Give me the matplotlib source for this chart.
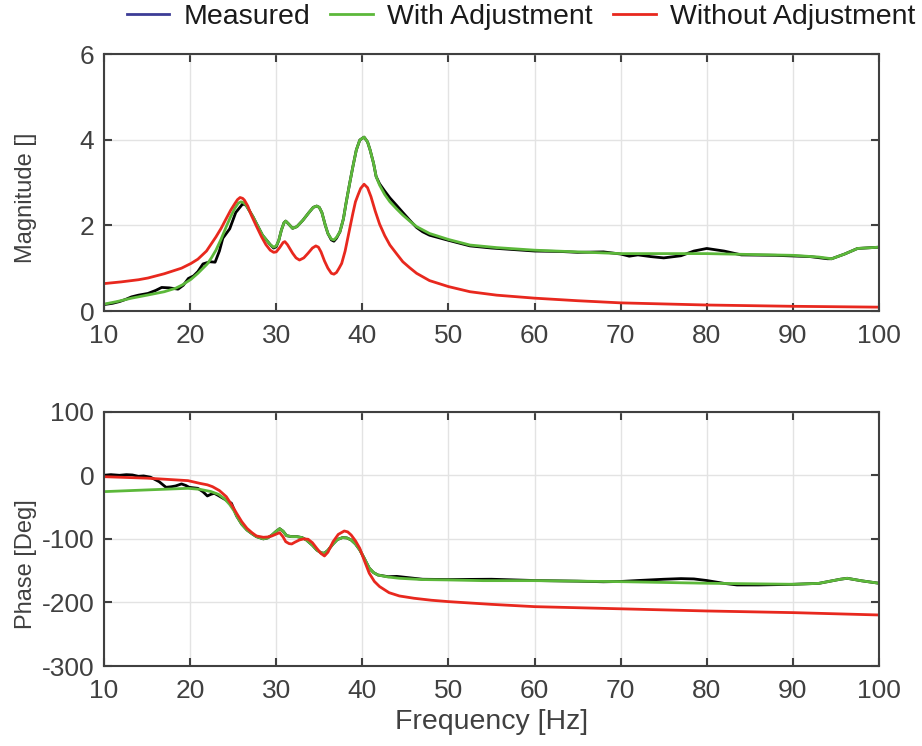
import numpy as np
import matplotlib
matplotlib.use("Agg")
import matplotlib.pyplot as plt
from matplotlib.lines import Line2D

plt.rcParams['font.family'] = ['Liberation Sans', 'DejaVu Sans']
plt.rcParams['axes.unicode_minus'] = False

# ---- Magnitud ----
f_mag_med = [10, 11, 11.8, 12.5, 13.2, 14.0, 15.1, 16.0, 16.7, 17.6, 18.6, 19.2, 19.8, 20.4,
             20.9, 21.5, 22.3, 22.9, 23.4, 23.8, 24.6, 25.3, 26.1, 26.5, 27.3, 28.4, 29.3,
             29.7, 30.0, 30.3, 30.6, 30.9, 31.1, 31.4, 31.9, 32.4, 33.1, 33.8, 34.3, 34.7,
             35.0, 35.3, 35.7, 36.0, 36.4, 36.7, 37.0, 37.4, 37.8, 38.1, 38.5, 38.9, 39.3,
             39.7, 40.2, 40.6, 40.9, 41.3, 41.6, 42.0, 42.6, 43.2, 44.0, 44.7, 45.5, 46.3,
             47.0, 47.8, 50, 52.5, 55, 60, 63, 65, 68, 70, 71, 72, 73.5, 75, 77, 78.5, 80,
             82, 84, 88, 92, 94, 94.5, 96, 97.5, 100]
mag_med = [0.15, 0.18, 0.22, 0.27, 0.33, 0.37, 0.41, 0.48, 0.55, 0.54, 0.51, 0.60, 0.76, 0.82,
           0.92, 1.10, 1.15, 1.14, 1.40, 1.70, 1.92, 2.30, 2.50, 2.47, 2.20, 1.77, 1.55,
           1.47, 1.50, 1.65, 1.89, 2.06, 2.10, 2.04, 1.93, 1.97, 2.12, 2.30, 2.42, 2.45,
           2.42, 2.30, 2.00, 1.81, 1.66, 1.63, 1.70, 1.85, 2.15, 2.51, 2.95, 3.37, 3.76,
           3.99, 4.06, 3.95, 3.76, 3.45, 3.14, 2.97, 2.80, 2.64, 2.46, 2.30, 2.12, 1.95,
           1.85, 1.77, 1.65, 1.52, 1.47, 1.40, 1.39, 1.37, 1.38, 1.33, 1.28, 1.31, 1.27,
           1.24, 1.29, 1.40, 1.46, 1.40, 1.31, 1.30, 1.27, 1.22, 1.22, 1.33, 1.46, 1.49]

f_mag_con = [10, 11.5, 13.2, 15, 17, 18.3, 19.1, 20.1, 20.9, 21.5, 22.0, 22.5, 23.0, 23.6,
             24.2, 24.7, 25.2, 25.6, 25.9, 26.2, 26.5, 27.3, 28.4, 29.3, 29.7, 30.0, 30.3,
             30.6, 30.9, 31.1, 31.4, 31.9, 32.4, 33.1, 33.8, 34.3, 34.7, 35.0, 35.3, 35.7,
             36.0, 36.4, 36.7, 37.0, 37.4, 37.8, 38.1, 38.5, 38.9, 39.3, 39.7, 40.2, 40.6,
             40.9, 41.3, 41.6, 42.0, 42.6, 43.2, 44.0, 44.7, 45.5, 46.3, 47.8, 50, 52.5,
             55.6, 60, 70, 80, 90, 93, 94.5, 96, 97.5, 100]
mag_con = [0.16, 0.22, 0.30, 0.37, 0.45, 0.53, 0.61, 0.74, 0.88, 1.00, 1.10, 1.25, 1.42, 1.68,
           1.97, 2.20, 2.40, 2.52, 2.55, 2.53, 2.47, 2.20, 1.77, 1.55, 1.49, 1.52, 1.65,
           1.89, 2.06, 2.10, 2.04, 1.93, 1.97, 2.12, 2.30, 2.42, 2.45, 2.42, 2.30, 2.00,
           1.81, 1.68, 1.66, 1.72, 1.85, 2.15, 2.51, 2.95, 3.37, 3.76, 3.99, 4.06, 3.95,
           3.76, 3.45, 3.14, 2.94, 2.72, 2.55, 2.38, 2.24, 2.10, 1.97, 1.81, 1.67, 1.54,
           1.48, 1.42, 1.34, 1.34, 1.30, 1.26, 1.22, 1.33, 1.46, 1.49]

f_mag_sin = [10, 12, 14, 15.1, 17, 19.0, 20.1, 20.9, 21.9, 23.0, 23.6, 24.2, 24.7, 25.2, 25.5,
             25.8, 26.1, 26.3, 26.7, 27.1, 27.7, 28.3, 28.8, 29.3, 29.7, 30.0, 30.4, 30.8,
             31.0, 31.3, 31.9, 32.3, 32.7, 33.2, 33.7, 34.2, 34.6, 34.9, 35.2, 35.6, 36.0,
             36.4, 36.7, 37.0, 37.3, 37.6, 38.0, 38.5, 38.9, 39.2, 39.5, 39.8, 40.2, 40.6,
             41.0, 41.5, 42.0, 42.6, 43.2, 44.0, 44.7, 45.5, 46.3, 47.8, 50, 52.5, 55.6, 60,
             65, 70, 80, 90, 100]
mag_sin = [0.64, 0.68, 0.73, 0.77, 0.87, 1.00, 1.11, 1.21, 1.40, 1.73, 1.93, 2.16, 2.35, 2.51,
           2.60, 2.65, 2.63, 2.59, 2.45, 2.24, 1.98, 1.73, 1.55, 1.42, 1.37, 1.38, 1.48,
           1.60, 1.62, 1.55, 1.35, 1.24, 1.19, 1.24, 1.35, 1.47, 1.52, 1.49, 1.38, 1.17,
           1.00, 0.88, 0.86, 0.90, 1.00, 1.11, 1.40, 1.89, 2.28, 2.55, 2.71, 2.86, 2.96,
           2.88, 2.67, 2.33, 2.03, 1.76, 1.54, 1.33, 1.15, 1.01, 0.88, 0.71, 0.57, 0.45,
           0.37, 0.30, 0.24, 0.19, 0.14, 0.11, 0.09]

# ---- Fase ----
f_fase_med = [10, 10.8, 11.8, 12.6, 13.3, 14.0, 14.6, 15.4, 16.4, 17.2, 17.8, 18.3, 19.0, 19.5,
              19.9, 20.9, 21.5, 22.0, 22.4, 22.8, 23.3, 23.8, 24.3, 24.8, 25.4, 26.0, 26.6,
              27.2, 27.7, 28.5, 29.0, 29.5, 30.0, 30.4, 30.8, 31.2, 31.8, 32.4, 33.0, 33.5,
              34.2, 34.7, 35.2, 35.6, 36.0, 36.6, 37.1, 37.7, 38.2, 38.7, 39.2, 39.7, 40.2,
              40.8, 41.3, 41.8, 43, 44, 47, 50, 55, 60, 65, 68, 70, 72, 75, 77, 78.5, 80, 82,
              83.5, 86, 88, 90, 93, 95.5, 96.3, 98, 100]
fase_med = [0, 1, 0, 1, 0.5, -1.6, -1, -3, -10, -18.9, -18, -16.8, -13.6, -16,
            -18.9, -20.5, -26, -32.5, -30, -28.3, -32, -36, -40, -44, -64, -77, -86,
            -92, -96.5, -100, -98.5, -94, -88, -84, -88, -95, -96.5, -96.5, -98, -101.7,
            -110, -117.4, -122, -122.6, -118, -108, -101, -98, -98.5, -101.7, -108, -117.4, -130,
            -146, -153, -156.8, -159.5, -159, -163.5, -164, -163.5, -165.5, -166.5, -167.5, -167,
            -165.5, -163.5, -162.5, -163, -165.5, -170,
            -172.5, -172.5, -172, -171.5, -170, -163.5, -162, -166, -169.8]

f_fase_con = [10, 15, 19.75, 21.1, 22.4, 23.3, 24.0, 24.6, 25.1, 25.4, 26.0, 26.6, 27.2, 27.7,
              28.5, 29.0, 29.5, 30.0, 30.4, 30.8, 31.2, 31.8, 32.4, 33.0, 33.5, 34.2, 34.7,
              35.2, 35.6, 36.0, 36.6, 37.1, 37.7, 38.2, 38.7, 39.2, 39.7, 40.2, 40.8, 41.3,
              41.8, 43, 44.3, 47, 50, 54, 60, 70, 80, 90, 93, 95.5, 96.3, 98, 100]
fase_con = [-25.7, -23, -20.5, -22, -25.5, -30, -37, -46, -56, -64, -77, -86, -92, -96.5,
            -100, -98.5, -94, -88, -84, -88, -95, -96.5, -96.5, -98, -101.7, -110, -117.4,
            -122, -122.6, -118, -108, -101, -98, -98.5, -101.7, -108, -117.4, -130, -146, -153,
            -156.8, -160, -162, -164, -164.6, -165.7, -165.7, -167.3, -169.8, -171.4, -170,
            -163.5, -162, -166, -169.8]

f_fase_sin = [10, 15, 19.75, 21.1, 22.0, 22.6, 23.4, 24.2, 24.8, 25.4, 26.0, 26.6, 27.2, 27.7,
              28.5, 29.0, 29.5, 30.0, 30.4, 30.8, 31.1, 31.5, 31.8, 32.2, 32.7, 33.2, 33.7,
              34.2, 34.7, 35.2, 35.6, 36.0, 36.6, 37.2, 37.9, 38.3, 38.7, 39.2, 39.7, 40.2,
              40.8, 41.4, 42.0, 43.1, 44.3, 46, 48, 50, 55, 60, 70, 80, 90, 100]
fase_sin = [-2.2, -4.5, -8.4, -12.6, -15, -17.9, -24, -33.6, -46, -59.8, -73, -83.4, -90.5,
            -95.4, -97.5, -97, -95.4, -92.5, -90.2, -97, -104.4, -107.5, -108, -105, -101.7,
            -100, -100.6, -106, -114.8, -123, -126.9, -121, -104.4, -93, -87.6, -89, -93.9,
            -103, -114.8, -133, -154, -167, -175, -184.6, -189.8, -193.4, -196.5, -198.7,
            -203, -206.6, -210, -213.4, -216, -219.7]

gris = '#404040'
c_med = 'black'
c_con = '#5cb83a'
c_sin = '#e8281e'

fig = plt.figure(figsize=(9.22, 7.46), dpi=100)
ax1 = fig.add_axes([0.1128, 0.5831, 0.8406, 0.3445])
ax2 = fig.add_axes([0.1128, 0.1072, 0.8406, 0.3409])

lw = 2.0
ax1.plot(f_mag_med, mag_med, color=c_med, lw=lw)
ax1.plot(f_mag_con, mag_con, color=c_con, lw=lw)
ax1.plot(f_mag_sin, mag_sin, color=c_sin, lw=lw)
ax2.plot(f_fase_med, fase_med, color=c_med, lw=lw)
ax2.plot(f_fase_con, fase_con, color=c_con, lw=lw)
ax2.plot(f_fase_sin, fase_sin, color=c_sin, lw=lw)

ax1.set_ylim(0, 6)
ax1.set_yticks([0, 2, 4, 6])
ax2.set_ylim(-300, 100)
ax2.set_yticks([-300, -200, -100, 0, 100])

for ax in (ax1, ax2):
    ax.set_xlim(10, 100)
    ax.set_xticks(range(10, 101, 10))
    ax.grid(True, color='#e3e3e3', lw=1.0)
    ax.set_axisbelow(True)
    ax.tick_params(direction='in', length=6, width=1.5, colors=gris, labelsize=19,
                   top=True, right=True, labelcolor=gris)
    ax.tick_params(axis='x', pad=9)
    ax.tick_params(axis='y', pad=7)
    for s in ax.spines.values():
        s.set_color(gris)
        s.set_linewidth(1.5)

ax1.set_ylabel('Magnitude []', fontsize=17, color=gris)
ax2.set_ylabel('Phase [Deg]', fontsize=17, color=gris)
ax1.yaxis.set_label_coords(-0.086, 0.44)
ax2.yaxis.set_label_coords(-0.086, 0.40)
ax2.set_xlabel('Frequency [Hz]', fontsize=20.5, color=gris, labelpad=5)

# leyenda (la línea "Measured" aparece azul en la leyenda original)
handles = [Line2D([], [], color='#3c3c96', lw=2),
           Line2D([], [], color=c_con, lw=2),
           Line2D([], [], color=c_sin, lw=2)]
fig.legend(handles, ['Measured', 'With Adjustment', 'Without Adjustment'],
           loc='center', bbox_to_anchor=(0.565, 0.977), ncol=3, frameon=False,
           fontsize=20.5, handlelength=1.5, columnspacing=0.7, handletextpad=0.5,
           labelcolor='#1a1a1a')

fig.savefig('out.png', dpi=100)
